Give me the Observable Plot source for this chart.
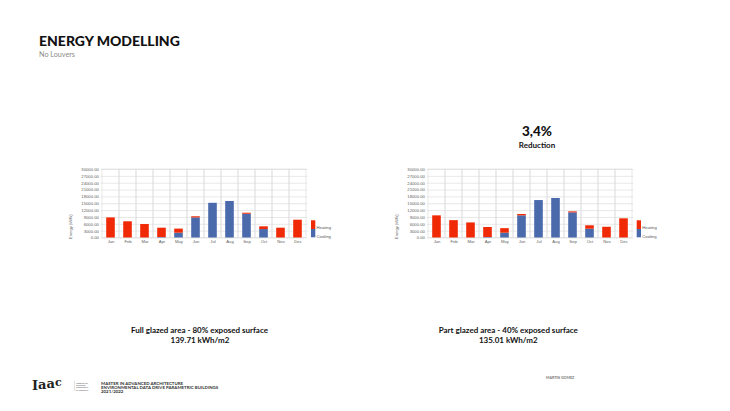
<!DOCTYPE html>
<html><head><meta charset="utf-8">
<script src="https://cdn.jsdelivr.net/npm/d3@7"></script>
<script src="https://cdn.jsdelivr.net/npm/@observablehq/plot@0.6"></script>
<style>
html,body{margin:0;padding:0;background:#fff;}
#page{position:relative;width:730px;height:411px;overflow:hidden;background:#fff;}
.chart{position:absolute;}
#overlay{position:absolute;left:0;top:0;}
</style></head><body><div id="page">
<div class="chart" id="c1" style="left:60px;top:160px"></div>
<div class="chart" id="c2" style="left:386px;top:160px"></div>
<svg id="overlay" width="730" height="411" xmlns="http://www.w3.org/2000/svg"></svg>
</div>
<script>
const months = ["Jan","Feb","Mar","Apr","May","Jun","Jul","Aug","Sep","Oct","Nov","Dec"];
const series = ["Cooling","Heating"];
// Full glazed area - 80% exposed surface (kWh)
const cooling1 = [0,0,0,200,2100,8800,15200,16000,10400,3700,0,0];
const heating1 = [8800,7100,5900,4100,1800,500,0,0,450,1200,4300,7800];
// Part glazed area - 40% exposed surface (kWh)
const cooling2 = [0,0,0,200,2100,9700,16400,17300,11000,3850,0,0];
const heating2 = [9700,7600,6600,4400,2000,600,0,0,450,1500,4700,8400];
const yTicks = [0,3000,6000,9000,12000,15000,18000,21000,24000,27000,30000];
const colors = {Cooling:"#4a6aac", Heating:"#f02a06"};

function chart(cool, heat){
  const data = [];
  months.forEach((m,i)=>{
    data.push({month:m, type:"Cooling", value:cool[i]});
    data.push({month:m, type:"Heating", value:heat[i]});
  });
  return Plot.plot({
    width:250, height:92,
    marginLeft:40.7, marginRight:2.7, marginTop:9, marginBottom:14.5,
    style:{fontFamily:"'Liberation Sans', Arial, sans-serif", fontSize:"4.2px", color:"#5e5e5e", background:"transparent", overflow:"visible"},
    x:{domain:months, padding:0, label:null},
    y:{domain:[0,30000], label:null},
    color:{domain:series, range:series.map(s=>colors[s])},
    marks:[
      Plot.gridY(yTicks,{stroke:"#d9d9d9", strokeOpacity:1, strokeWidth:0.6}),
      Plot.barY(months,{x:d=>d, y1:0, y2:30000, fill:"none", stroke:"#d9d9d9", strokeWidth:0.6}),
      Plot.barY(data,{x:"month", y:"value", fill:"type", order:series, insetLeft:4.2, insetRight:4.2}),
      Plot.axisY(yTicks,{tickFormat:d3.format(".2f"), tickSize:0, tickPadding:2.4}),
      Plot.axisX({tickSize:0, tickPadding:2.5})
    ]
  });
}
document.getElementById("c1").appendChild(chart(cooling1, heating1));
document.getElementById("c2").appendChild(chart(cooling2, heating2));

const ov = d3.select("#overlay");
function txt(x,y,s,o={}){
  const t = ov.append("text").attr("x",x).attr("y",y).text(s)
    .attr("font-family",o.ff||"Lato, sans-serif").attr("font-size",o.fs||8)
    .attr("font-weight",o.fw||400).attr("fill",o.fill||"#111")
    .attr("text-anchor",o.anchor||"start");
  if(o.tr) t.attr("transform",o.tr);
  return t;
}
txt(39,45.9,"ENERGY MODELLING",{fs:14,fw:900});
txt(39,56.7,"No Louvers",{fs:7.2,fill:"#8a8a8a"});
txt(537,135.7,"3,4%",{fs:13.5,fw:900,anchor:"middle"});
txt(537,147.7,"Reduction",{fs:8,fw:700,anchor:"middle"});
txt(199.5,332.8,"Full glazed area - 80% exposed surface",{fs:8,fw:700,anchor:"middle"});
txt(200,342.5,"139.71 kWh/m2",{fs:8,fw:700,anchor:"middle"});
txt(508.3,332.8,"Part glazed area - 40% exposed surface",{fs:8,fw:700,anchor:"middle"});
txt(508.3,342.5,"135.01 kWh/m2",{fs:8,fw:700,anchor:"middle"});

// y-axis titles
[72.4, 398.4].forEach(x=>{
  txt(0,0,"Energy (kWh)",{ff:"'Liberation Sans', Arial, sans-serif",fs:4,fill:"#666",anchor:"middle",tr:`translate(${x},226.7) rotate(-90)`});
});
// legends
[[311,316.6],[636.7,642.3]].forEach(([bx,lx])=>{
  ov.append("rect").attr("x",bx).attr("y",220.3).attr("width",4.3).attr("height",8.7).attr("fill",colors.Heating);
  ov.append("rect").attr("x",bx).attr("y",229).attr("width",4.3).attr("height",8.3).attr("fill",colors.Cooling);
  txt(lx,229.2,"Heating",{ff:"'Liberation Sans', Arial, sans-serif",fs:4.2,fill:"#555"});
  txt(lx,237.6,"Cooling",{ff:"'Liberation Sans', Arial, sans-serif",fs:4.2,fill:"#555"});
});

// footer
const logo = ov.append("text").attr("x",32).attr("y",390).attr("font-family","'DejaVu Serif', serif")
  .attr("font-weight",700).attr("font-size",13).attr("fill","#222");
logo.append("tspan").text("I");
logo.append("tspan").attr("dy",-0.6).text("a");
logo.append("tspan").attr("dy",-1.2).text("a");
logo.append("tspan").attr("dy",-1.8).attr("font-size",11).text("c");
ov.append("line").attr("x1",74.5).attr("x2",74.5).attr("y1",381).attr("y2",391).attr("stroke","#999").attr("stroke-width",0.3);
["Institute for","advanced","architecture","of Catalonia"].forEach((s,i)=>txt(76,383.5+i*2.4,s,{fs:2.3,fill:"#555"}));
["MASTER IN ADVANCED ARCHITECTURE","ENVIRONMENTAL DATA DRIVE PARAMETRIC BUILDINGS","2021/2022"].forEach((s,i)=>
  txt(101,384.7+i*4.3,s,{fs:4.4,fw:700,fill:"#333"}));
txt(546,378.5,"MARTIN GOMEZ",{fs:3.6,fw:700,fill:"#777"});
</script>
</body></html>
